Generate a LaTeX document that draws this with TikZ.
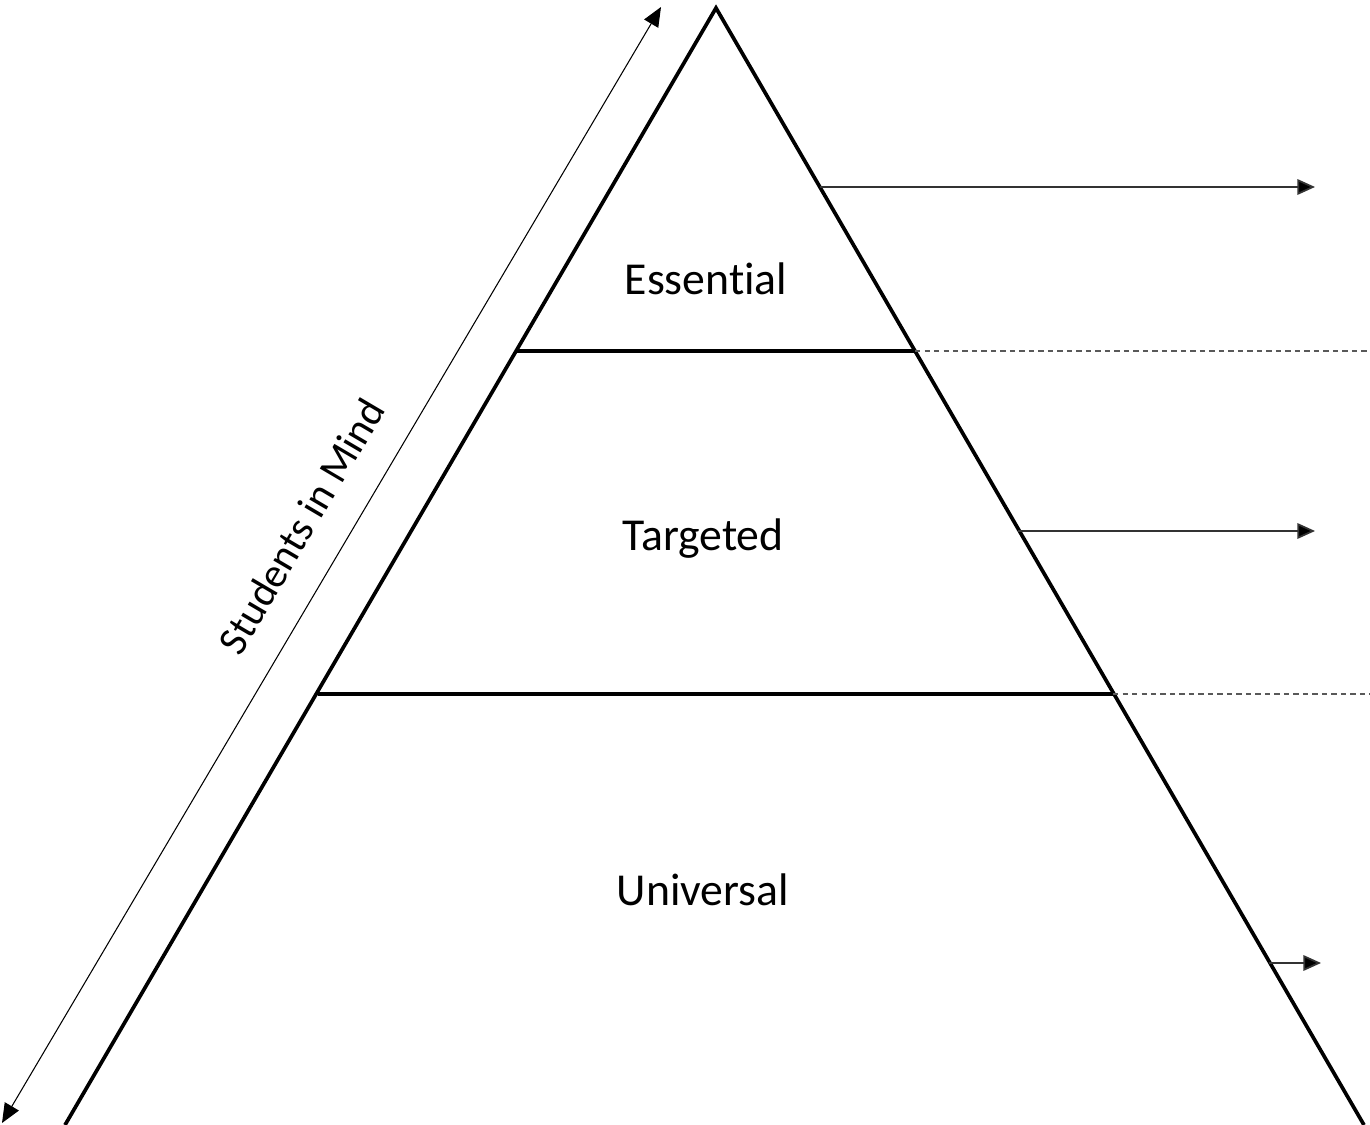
\documentclass[tikz,border=0pt]{standalone}
\usepackage{fontspec}
\setmainfont{Carlito}[Ligatures=NoCommon]
\usetikzlibrary{arrows.meta}

\begin{document}
\begin{tikzpicture}[x=0.01cm,y=-0.01cm,
    tier/.style={line width=1.05pt},
    pointer/.style={draw=black!80,line width=0.5pt,-{Triangle[length=5pt,width=4.4pt,fill=black]}},
    divider/.style={draw=black!65,line width=0.45pt,dash pattern=on 1.5pt off 1.2pt},
    level/.style={font=\fontsize{13}{15}\selectfont}]
    \useasboundingbox (0,0) rectangle (1370,1125);

    \coordinate (top) at (716,8);
    \coordinate (bl) at (65,1125);
    \coordinate (br) at (1364,1125);

    \draw[tier] (bl) -- (top) -- (br);

    % tier borders
    \coordinate (e1) at (516,351);
    \coordinate (e2) at (915,351);
    \coordinate (t1) at (318,694);
    \coordinate (t2) at (1113,694);
    \draw[tier] (e1) -- (e2);
    \draw[tier] (t1) -- (t2);

    \coordinate (d1) at (1370,351);
    \coordinate (d2) at (1370,694);
    \draw[divider] (e2) -- (d1);
    \draw[divider] (t2) -- (d2);

    % arrows to the right
    \foreach \y/\xa/\xb in {187/820/1315, 531/1018/1315, 963/1269/1321}
    {
        \coordinate (s\y) at (\xa,\y);
        \coordinate (f\y) at (\xb,\y);
        \draw[pointer] (s\y) -- (f\y);
    }

    \node[level] (essential) at (706,279) {Essential};
    \node[level] (targeted) at (703,539) {Targeted};
    \node[level] (universal) at (703,890) {Universal};

    \coordinate (low) at (2,1123);
    \coordinate (high) at (661,7);
    \draw[line width=0.3pt,{Triangle[length=5.5pt,width=4.6pt]}-{Triangle[length=5.5pt,width=4.6pt]}] (low) -- (high);
    \node[level,font=\fontsize{11.8}{14}\selectfont,rotate=59.5] (mind) at (301,526) {Students in Mind};

\end{tikzpicture}
\end{document}
